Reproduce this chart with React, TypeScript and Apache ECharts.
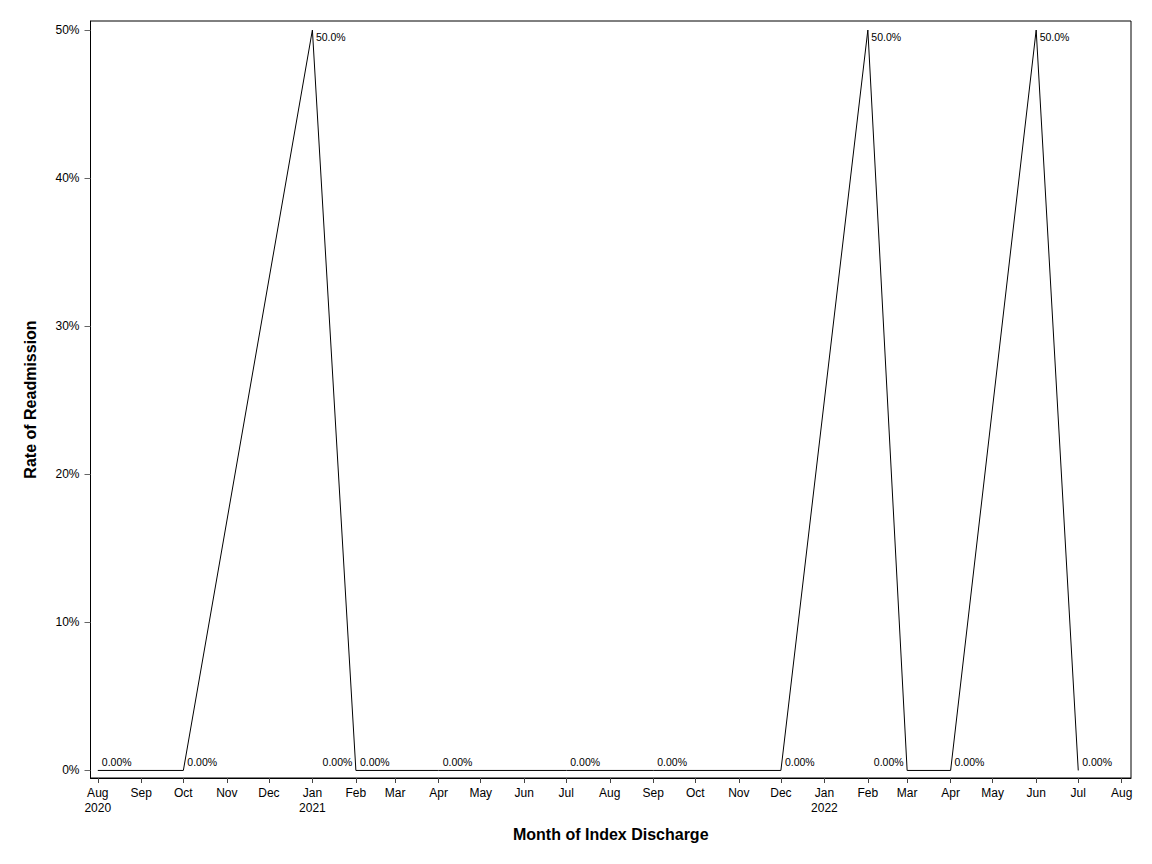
import React, { useEffect, useRef } from "react";
import * as echarts from "echarts";

// readmission rate by month of index discharge
const dischargeMonths = [
  "2020-08", "2020-10", "2021-01", "2021-02", "2021-02", "2021-04", "2021-07",
  "2021-09", "2021-12", "2022-02", "2022-03", "2022-04", "2022-06", "2022-07",
];
const readmitRates = [0, 0, 50, 0, 0, 0, 0, 0, 0, 50, 0, 0, 50, 0];
// points whose label sits on the left of the point
const leftLabelIdx = [3, 10];

const yTicks = [0, 10, 20, 30, 40, 50];
const monthNames = ["Jan", "Feb", "Mar", "Apr", "May", "Jun", "Jul", "Aug", "Sep", "Oct", "Nov", "Dec"];
const firstTick = "2020-08";
const tickCount = 25;

const DAY = 86400000;
const toMs = (s: string) => {
  const [y, m] = s.split("-").map(Number);
  return Date.UTC(y, m - 1, 1);
};

const App: React.FC = () => {
  const chartRef = useRef<HTMLDivElement | null>(null);

  useEffect(() => {
    if (!chartRef.current) return;
    const chart = echarts.init(chartRef.current, undefined, { renderer: "svg" });

    const [fy, fm] = firstTick.split("-").map(Number);
    const tickValues: number[] = [];
    for (let i = 0; i < tickCount; i++) tickValues.push(Date.UTC(fy, fm - 1 + i, 1));
    const xMin = tickValues[0] - 5.2 * DAY;
    const xMax = tickValues[tickValues.length - 1] + 6.6 * DAY;

    const fmtRate = (v: number) => (v === 0 ? "0.00%" : v.toFixed(1) + "%");

    const data = dischargeMonths.map((m, i) => {
      const v = readmitRates[i];
      const left = leftLabelIdx.includes(i);
      const dx = left ? -3.5 : v === 0 ? 4 : 3.5;
      const dy = v === 0 ? -8 : 7;
      return {
        value: [toMs(m), v],
        label: {
          position: [dx, dy],
          align: left ? "right" : "left",
          verticalAlign: "middle",
        },
      };
    });

    const font = "'Liberation Sans', Arial, sans-serif";

    chart.setOption({
      animation: false,
      textStyle: { fontFamily: font },
      grid: {
        left: 90.5,
        right: 21,
        top: 21,
        bottom: 86,
        show: true,
        borderColor: "#000",
        borderWidth: 1,
      },
      xAxis: {
        type: "value",
        min: xMin,
        max: xMax,
        name: "Month of Index Discharge",
        nameLocation: "middle",
        nameGap: 48,
        nameTextStyle: { fontFamily: font, fontSize: 16, fontWeight: "bold", color: "#000" },
        axisLine: { show: true, onZero: false, lineStyle: { color: "#000", width: 1 } },
        axisTick: {
          show: true,
          inside: false,
          length: 5,
          customValues: tickValues,
          lineStyle: { color: "#444" },
        },
        axisLabel: {
          customValues: tickValues,
          margin: 7,
          fontFamily: font,
          fontSize: 12,
          color: "#000",
          lineHeight: 15,
          formatter: (val: number) => {
            const d = new Date(val);
            const name = monthNames[d.getUTCMonth()];
            const showYear = val === tickValues[0] || d.getUTCMonth() === 0;
            return showYear ? name + "\n" + d.getUTCFullYear() : name;
          },
        },
        splitLine: { show: false },
      },
      yAxis: {
        type: "value",
        min: -0.51,
        max: 50.61,
        name: "Rate of Readmission",
        nameLocation: "middle",
        nameGap: 52,
        nameTextStyle: { fontFamily: font, fontSize: 16, fontWeight: "bold", color: "#000" },
        axisLine: { show: true, onZero: false, lineStyle: { color: "#000", width: 1 } },
        axisTick: {
          show: true,
          inside: false,
          length: 6,
          customValues: yTicks,
          lineStyle: { color: "#666" },
        },
        axisLabel: {
          customValues: yTicks,
          margin: 11,
          fontFamily: font,
          fontSize: 12,
          color: "#000",
          formatter: (v: number) => v + "%",
        },
        splitLine: { show: false },
      },
      series: [
        {
          type: "line",
          data,
          symbol: "circle",
          symbolSize: 0.01,
          itemStyle: { color: "rgba(0,0,0,0)" },
          lineStyle: { color: "#000", width: 1 },
          label: {
            show: true,
            fontFamily: font,
            fontSize: 10.5,
            color: "#000",
            formatter: (p: any) => fmtRate(p.value[1]),
          },
        },
      ],
    });

    return () => {
      chart.dispose();
    };
  }, []);

  return (
    <div
      ref={chartRef}
      style={{ position: "fixed", left: 0, top: 0, width: "1152px", height: "864px", background: "#fff" }}
    />
  );
};

export default App;
